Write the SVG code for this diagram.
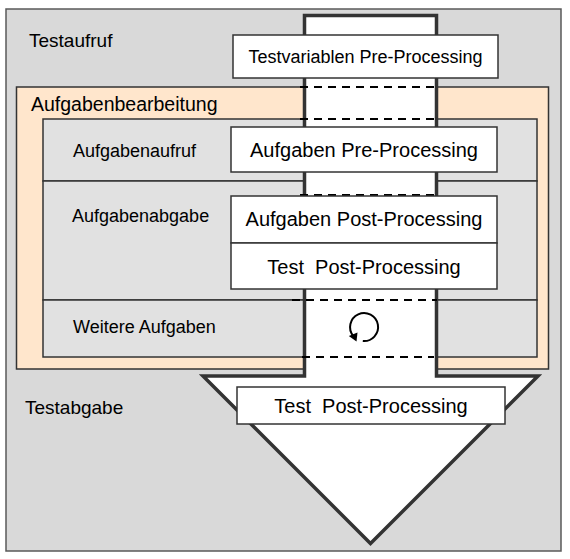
<svg xmlns="http://www.w3.org/2000/svg" width="570" height="559" viewBox="0 0 570 559">
<style>
text{font-family:"Liberation Sans",Arial,sans-serif;fill:#000}
.lbl{font-size:19px}
.sub{font-size:18px}
.box{fill:#fff;stroke:#333;stroke-width:1.5}
.bt{font-size:20px;text-anchor:middle}
.dash{stroke:#000;stroke-width:2;stroke-dasharray:8 6;fill:none}
.row{fill:#e1e1e1;stroke:#333;stroke-width:1.5}
</style>
<g id="testaufruf">
<rect x="6" y="9" width="555" height="542" fill="#d9d9d9" stroke="#595959" stroke-width="1.5"/>
<text class="lbl" x="29" y="47">Testaufruf</text>
<text class="lbl" x="25" y="414">Testabgabe</text>
</g>
<g id="aufgabenbearbeitung">
<rect x="16.5" y="87" width="532" height="282" fill="#ffe6cc" stroke="#333" stroke-width="1.5"/>
<text class="lbl" x="31" y="111" style="font-size:19.5px">Aufgabenbearbeitung</text>
</g>
<g id="aufgabenaufruf">
<rect class="row" x="43" y="119" width="494" height="62"/>
<text class="sub" x="73" y="157">Aufgabenaufruf</text>
</g>
<g id="aufgabenabgabe">
<rect class="row" x="43" y="181" width="494" height="119"/>
<text class="sub" x="72" y="222">Aufgabenabgabe</text>
</g>
<g id="weitere">
<rect class="row" x="43" y="300" width="494" height="57"/>
<text class="sub" x="73" y="333">Weitere Aufgaben</text>
</g>
<g id="pfeil">
<polygon points="304.5,15.5 436.5,15.5 436.5,376 538,376 370.5,543.5 203,376 304.5,376" fill="#fff" stroke="#333" stroke-width="3.5" stroke-linejoin="miter"/>
</g>
<g id="connectors">
<line class="dash" x1="300" y1="87" x2="436" y2="87"/>
<line class="dash" x1="300" y1="119" x2="436" y2="119"/>
<line class="dash" x1="300" y1="195" x2="436" y2="195"/>
<line class="dash" x1="292" y1="300" x2="437" y2="300"/>
<line class="dash" x1="302" y1="357" x2="434" y2="357"/>
</g>
<g id="schleife">
<path d="M 362.8 341 A 14 14 0 1 0 353.3 336" fill="none" stroke="#000" stroke-width="2"/>
<polygon points="356.5,341.5 348.8,336 357.5,332.5" fill="#000"/>
</g>
<g id="box1">
<rect class="box" x="233" y="35" width="265" height="43"/>
<text class="bt" x="365.5" y="63" style="font-size:18px">Testvariablen Pre-Processing</text>
</g>
<g id="box2">
<rect class="box" x="231" y="127" width="266" height="45"/>
<text class="bt" x="364" y="157">Aufgaben Pre-Processing</text>
</g>
<g id="box3">
<rect class="box" x="231" y="196" width="266" height="47"/>
<text class="bt" x="364" y="226">Aufgaben Post-Processing</text>
</g>
<g id="box4">
<rect class="box" x="231" y="243" width="266" height="46"/>
<text class="bt" x="364" y="274" xml:space="preserve">Test  Post-Processing</text>
</g>
<g id="box5">
<rect class="box" x="237" y="387" width="268" height="37"/>
<text class="bt" x="371" y="413" xml:space="preserve">Test  Post-Processing</text>
</g>
</svg>
